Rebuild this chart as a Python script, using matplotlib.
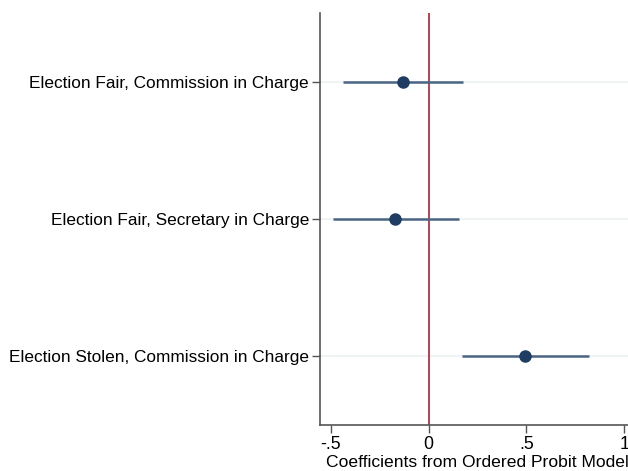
import numpy as np
import matplotlib
matplotlib.use("Agg")
from matplotlib import pyplot as plt

plt.rcParams['font.family'] = ['Liberation Sans', 'DejaVu Sans']

labels = ["Election Fair, Commission in Charge",
          "Election Fair, Secretary in Charge",
          "Election Stolen, Commission in Charge"]
coef = [-0.13, -0.17, 0.495]
ci_low = [-0.44, -0.49, 0.17]
ci_high = [0.175, 0.155, 0.82]
xticks = [-0.5, 0, 0.5, 1]
xtick_labels = ["-.5", "0", ".5", "1"]

fig = plt.figure(figsize=(6.28, 4.71), dpi=100)
ax = fig.add_axes([0.5096, 0.0977, 0.4904, 0.8747])

y = np.arange(1, len(labels) + 1)
for yi in y:
    ax.axhline(yi, color="#eef1f2", lw=1.2, zorder=0)
ax.axvline(0, color="#b8313f", lw=1.3, zorder=1)
ax.hlines(y, ci_low, ci_high, color="#4a6483", lw=1.8, zorder=2)
ax.plot(coef, y, "o", color="#1f3d63", ms=8, zorder=3)

ax.set_xlim(-0.556, 1.02)
ax.set_ylim(3.5, 0.5)
ax.set_yticks(y)
ax.set_yticklabels(labels, fontsize=12.4)
ax.set_xticks(xticks)
ax.set_xticklabels(xtick_labels, fontsize=12.8)
ax.set_xlabel("Coefficients from Ordered Probit Model", fontsize=12.6)
ax.xaxis.set_label_coords(0.51, -0.072)
ax.tick_params(axis="both", color="#555555", width=1, length=6, pad=2)
for side in ["top", "right"]:
    ax.spines[side].set_visible(False)
for side in ["left", "bottom"]:
    ax.spines[side].set_color("#555555")
    ax.spines[side].set_linewidth(1.2)

fig.savefig("out.png", dpi=100)
